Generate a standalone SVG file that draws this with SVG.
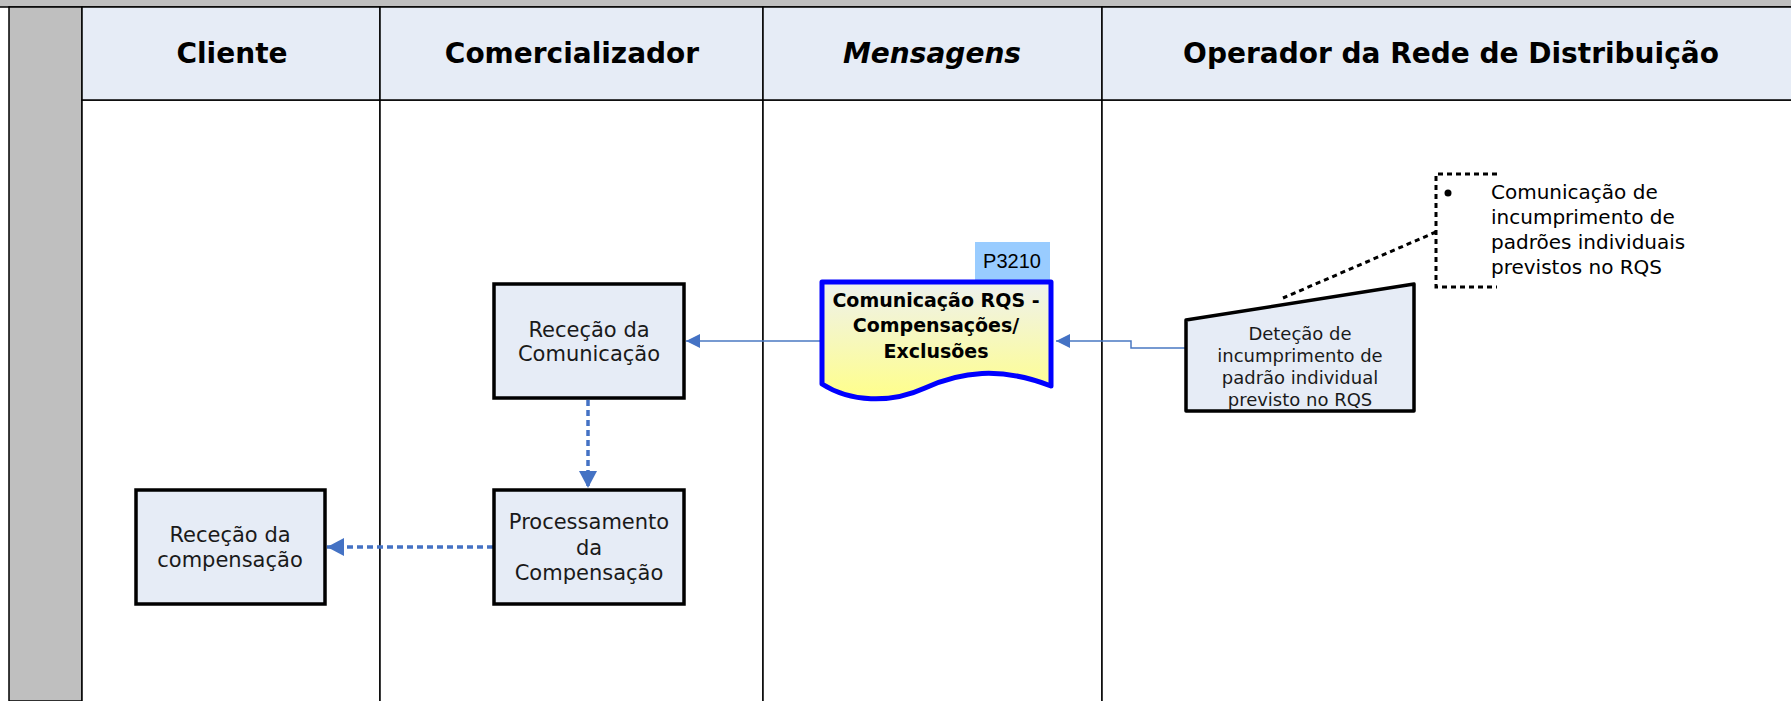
<svg xmlns="http://www.w3.org/2000/svg" width="1791" height="701" viewBox="0 0 1791 701">
<style>
.lane{fill:#ffffff;stroke:#000;stroke-width:1.5}
.hdr{fill:#E6ECF6;stroke:#000;stroke-width:1.5}
.htxt{font-family:"DejaVu Sans",sans-serif;font-weight:bold;font-size:28px;fill:#000;text-anchor:middle}
.box{fill:#E6ECF6;stroke:#000;stroke-width:3.5}
.t{font-family:"DejaVu Sans",sans-serif;font-size:21px;fill:#1a1a1a;text-anchor:middle}
.ts{font-family:"DejaVu Sans",sans-serif;font-size:18px;fill:#1a1a1a;text-anchor:middle}
.tb{font-family:"DejaVu Sans",sans-serif;font-weight:bold;font-size:19px;fill:#000;text-anchor:middle}
.ta{font-family:"DejaVu Sans",sans-serif;font-size:20px;fill:#000}
.solid{fill:none;stroke:#4A78C2;stroke-width:1.5}
.dash{fill:none;stroke:#4472C4;stroke-width:3.5;stroke-dasharray:6,4}
.dot{fill:none;stroke:#000;stroke-width:3;stroke-dasharray:5,4}
</style>
<defs>
<marker id="arr" markerUnits="userSpaceOnUse" markerWidth="16" markerHeight="16" refX="14" refY="7" orient="auto">
<path d="M0,0 L14,7 L0,14 Z" fill="#4472C4"/>
</marker>
<marker id="arrL" markerUnits="userSpaceOnUse" markerWidth="20" markerHeight="20" refX="17" refY="9" orient="auto">
<path d="M0,0 L17,9 L0,18 Z" fill="#4472C4"/>
</marker>
<linearGradient id="docg" x1="0" y1="0" x2="0" y2="1">
<stop offset="0" stop-color="#EEF1EE"/>
<stop offset="1" stop-color="#FFFF8A"/>
</linearGradient>
</defs>

<g id="background">
<rect x="0" y="0" width="1791" height="701" fill="#ffffff"/>
<rect x="0" y="0" width="1791" height="7" fill="#BFBFBF"/>
<line x1="0" y1="7" x2="1791" y2="7" stroke="#000" stroke-width="1.5"/>
<rect x="9" y="7" width="73" height="694" fill="#BFBFBF" stroke="#000" stroke-width="1.5"/>
</g>

<g id="lane-cliente">
<rect class="lane" x="82" y="100" width="298" height="610"/>
<rect class="hdr" x="82" y="7" width="298" height="93"/>
<text class="htxt" x="232" y="63">Cliente</text>
</g>
<g id="lane-comercializador">
<rect class="lane" x="380" y="100" width="383" height="610"/>
<rect class="hdr" x="380" y="7" width="383" height="93"/>
<text class="htxt" x="572" y="63">Comercializador</text>
</g>
<g id="lane-mensagens">
<rect class="lane" x="763" y="100" width="339" height="610"/>
<rect class="hdr" x="763" y="7" width="339" height="93"/>
<text class="htxt" x="932" y="63" font-style="italic">Mensagens</text>
</g>
<g id="lane-ord">
<rect class="lane" x="1102" y="100" width="700" height="610"/>
<rect class="hdr" x="1102" y="7" width="700" height="93"/>
<text class="htxt" x="1451" y="63">Operador da Rede de Distribuição</text>
</g>

<g id="connectors">
<path class="solid" d="M1186,348 H1131 V341 H1056" marker-end="url(#arr)"/>
<path class="solid" d="M821,341 H686" marker-end="url(#arr)"/>
<path class="dash" d="M588,400 V488" marker-end="url(#arrL)"/>
<path class="dash" d="M493,547 H327" marker-end="url(#arrL)"/>
<path class="dot" d="M1436,232 L1283,298"/>
</g>

<g id="node-rececao-comunicacao">
<rect class="box" x="494" y="284" width="190" height="114"/>
<text class="t" x="589" y="337">Receção da</text>
<text class="t" x="589" y="361">Comunicação</text>
</g>

<g id="node-processamento">
<rect class="box" x="494" y="490" width="190" height="114"/>
<text class="t" x="589" y="529">Processamento</text>
<text class="t" x="589" y="555">da</text>
<text class="t" x="589" y="580">Compensação</text>
</g>

<g id="node-rececao-compensacao">
<rect class="box" x="136" y="490" width="189" height="114"/>
<text class="t" x="230" y="542">Receção da</text>
<text class="t" x="230" y="567">compensação</text>
</g>

<g id="node-documento">
<rect x="975" y="242" width="75" height="38" fill="#99CCFF"/>
<text x="1012" y="268" font-family="Liberation Sans, Arial, sans-serif" font-size="20" text-anchor="middle" fill="#000">P3210</text>
<path d="M822,282 H1051 V386 C1000,366 960,372 925,388 C890,404 850,402 822,384 Z" fill="url(#docg)" stroke="#0000FF" stroke-width="5" stroke-linejoin="round"/>
<text class="tb" x="936" y="307">Comunicação RQS -</text>
<text class="tb" x="936" y="332">Compensações/</text>
<text class="tb" x="936" y="358">Exclusões</text>
</g>

<g id="node-detecao">
<path d="M1186,320 L1414,284 V411 H1186 Z" fill="#E6ECF6" stroke="#000" stroke-width="3.5" stroke-linejoin="round"/>
<text class="ts" x="1300" y="340">Deteção de</text>
<text class="ts" x="1300" y="362">incumprimento de</text>
<text class="ts" x="1300" y="384">padrão individual</text>
<text class="ts" x="1300" y="406">previsto no RQS</text>
</g>

<g id="annotation">
<path class="dot" d="M1497,174 H1436 V287 H1497"/>
<circle cx="1448" cy="193" r="3.5" fill="#000"/>
<text class="ta" x="1491" y="199">Comunicação de</text>
<text class="ta" x="1491" y="224">incumprimento de</text>
<text class="ta" x="1491" y="249">padrões individuais</text>
<text class="ta" x="1491" y="274">previstos no RQS</text>
</g>
</svg>
